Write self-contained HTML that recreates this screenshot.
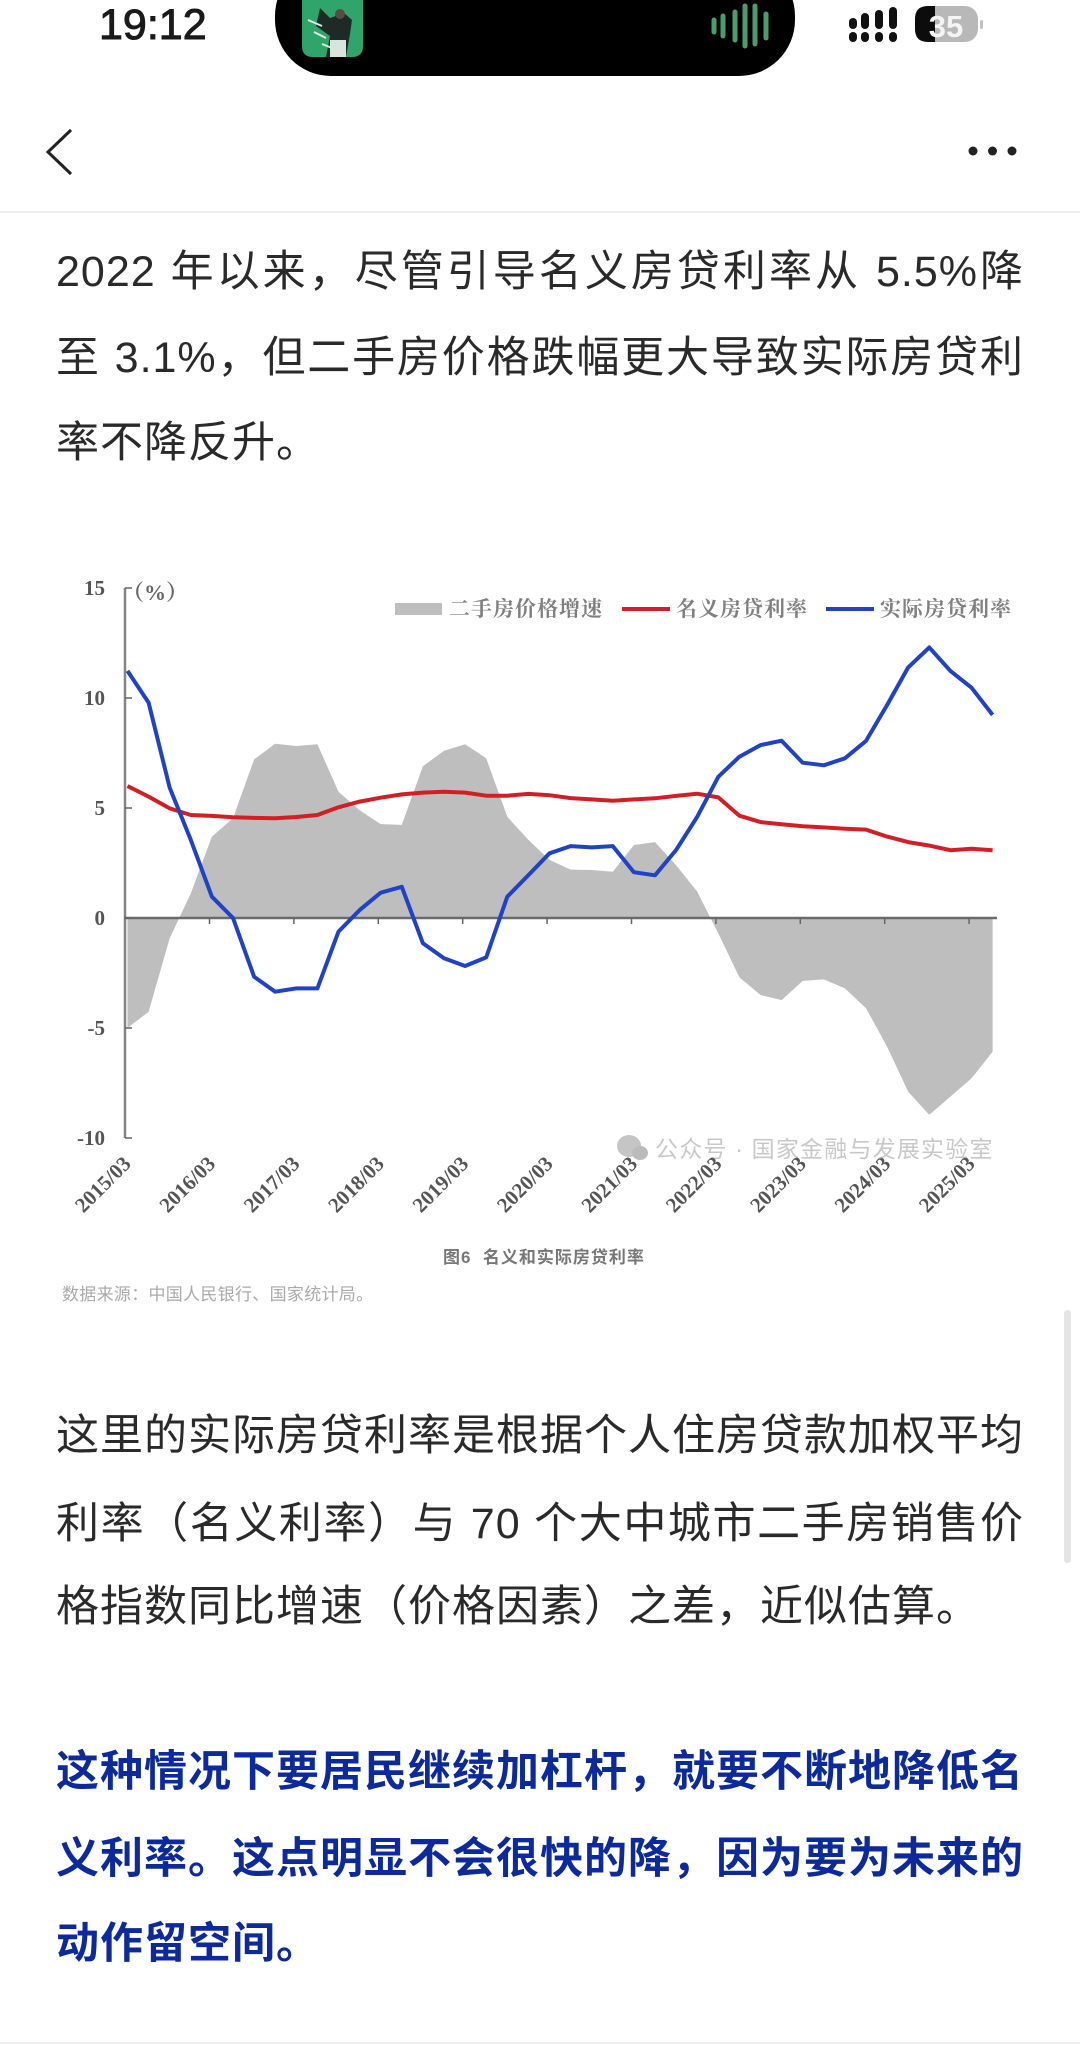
<!DOCTYPE html>
<html lang="zh-CN">
<head>
<meta charset="utf-8">
<title>名义和实际房贷利率</title>
<style>
html,body{margin:0;padding:0;background:#fff;}
body{width:1080px;height:2054px;position:relative;overflow:hidden;font-family:"Liberation Sans","Noto Sans CJK SC",sans-serif;}
.abs{position:absolute;}
.line{position:absolute;left:56px;width:968px;height:60px;line-height:60px;font-size:43px;letter-spacing:1px;color:#2a2a2a;white-space:normal;}
.just{text-align:justify;text-align-last:justify;}
.blue{color:#0c2a9c;font-weight:700;}
#chart{position:absolute;left:0;top:0;}
</style>
</head>
<body>

<div class="abs" style="left:99px;top:0;height:50px;line-height:50px;font-size:43px;font-weight:400;-webkit-text-stroke:1px #1a1a1a;color:#1a1a1a;">19:12</div>

<div class="abs" style="left:275px;top:-40px;width:520px;height:116px;background:#000;border-radius:56px;"></div>
<svg class="abs" style="left:0;top:0;" width="1080" height="80">
  <g>
    <path d="M302 0H363V46Q363 57 352 57H313Q302 57 302 46Z" fill="#2fa56b"/>
    <path d="M320 8L330 18L344 13L352 20L350 34L346 57H326L330 36L316 26Z" fill="#1f2a26"/>
    <rect x="330" y="40" width="16" height="17" fill="#d8e4dc"/>
    <circle cx="340" cy="14" r="5" fill="#5a4a40"/>
    <path d="M308 20L322 26M314 32L326 38M322 44L332 48" stroke="#dfe8e2" stroke-width="2"/>
  </g>
  <g stroke="#4d9c6c" stroke-width="5" stroke-linecap="round">
    <line x1="714" y1="20" x2="714" y2="32"/>
    <line x1="723" y1="16" x2="723" y2="36"/>
    <line x1="735" y1="12" x2="735" y2="40"/>
    <line x1="745" y1="6" x2="745" y2="46"/>
    <line x1="755" y1="6" x2="755" y2="44"/>
    <line x1="766" y1="14" x2="766" y2="38"/>
  </g>
  <g stroke="#111" stroke-width="8" stroke-linecap="round">
    <line x1="853" y1="22" x2="853" y2="25"/><line x1="865" y1="17" x2="865" y2="25"/>
    <line x1="879" y1="14" x2="879" y2="25"/><line x1="893" y1="11" x2="893" y2="25"/>
    <line x1="853" y1="36" x2="853" y2="38"/><line x1="865" y1="36" x2="865" y2="38"/>
    <line x1="879" y1="36" x2="879" y2="38"/><line x1="893" y1="36" x2="893" y2="38"/>
  </g>
  <g>
    <rect x="915" y="6" width="63" height="36" rx="13" fill="#b8b8b8"/>
    <path d="M928 6H935V42H928Q915 42 915 29V19Q915 6 928 6Z" fill="#0c0c0c"/>
    <rect x="980" y="20" width="3" height="9" rx="1.5" fill="#c0c0c0"/>
    <text x="946" y="37" text-anchor="middle" font-family="Liberation Sans" font-weight="700" font-size="31" fill="#f4f4f4">35</text>
  </g>
</svg>

<svg class="abs" style="left:0;top:110px;" width="1080" height="90">
  <polyline points="71,20 48,42 71,64" fill="none" stroke="#222" stroke-width="3"/>
  <g fill="#222">
    <circle cx="973" cy="41" r="4.5"/><circle cx="992.5" cy="41" r="4.5"/><circle cx="1012" cy="41" r="4.5"/>
  </g>
</svg>
<div class="abs" style="left:0;top:211px;width:1080px;height:2px;background:#efefef;"></div>

<div class="line just" style="top:242px;">2022 年以来，尽管引导名义房贷利率从 5.5%降</div>
<div class="line just" style="top:328px;">至 3.1%，但二手房价格跌幅更大导致实际房贷利</div>
<div class="line" style="top:413px;">率不降反升。</div>

<svg id="chart" width="1080" height="1340">
  <g>
    <rect x="395" y="603" width="47" height="12" fill="#bebebe"/>
    <text x="449" y="616" font-family="'Liberation Serif','Noto Serif CJK SC',serif" font-size="21" font-weight="700" letter-spacing="1" fill="#808080">二手房价格增速</text>
    <line x1="622" y1="609" x2="670" y2="609" stroke="#d21f26" stroke-width="4"/>
    <text x="676" y="616" font-family="'Liberation Serif','Noto Serif CJK SC',serif" font-size="21" font-weight="700" letter-spacing="1" fill="#808080">名义房贷利率</text>
    <line x1="826" y1="609" x2="874" y2="609" stroke="#2043c6" stroke-width="4"/>
    <text x="880" y="616" font-family="'Liberation Serif','Noto Serif CJK SC',serif" font-size="21" font-weight="700" letter-spacing="1" fill="#808080">实际房贷利率</text>
  </g>
  <text x="122" y="600" font-family="'Liberation Serif','Noto Serif CJK SC',serif" font-size="22" font-weight="700" fill="#666">（%）</text>
</svg>

<div class="abs" style="left:443px;top:1246px;height:24px;line-height:24px;font-size:17px;font-weight:700;color:#777;letter-spacing:1px;white-space:pre;">图6  名义和实际房贷利率</div>
<div class="abs" style="left:62px;top:1283px;height:24px;line-height:24px;font-size:17px;color:#aaa;letter-spacing:.3px;white-space:pre;">数据来源：中国人民银行、国家统计局。</div>

<svg class="abs" style="left:610px;top:1130px;opacity:.85;" width="45" height="36">
  <ellipse cx="19" cy="16" rx="12" ry="11" fill="#bcbcbc"/>
  <ellipse cx="30" cy="23" rx="8" ry="7" fill="#b0b0b0"/>
</svg>
<div class="abs" style="left:655px;top:1135px;height:28px;line-height:28px;font-size:23px;letter-spacing:1.2px;color:rgba(170,170,170,.65);white-space:pre;">公众号 · 国家金融与发展实验室</div>

<div class="line just" style="top:1406px;">这里的实际房贷利率是根据个人住房贷款加权平均</div>
<div class="line just" style="top:1494px;">利率（名义利率）与 70 个大中城市二手房销售价</div>
<div class="line" style="top:1577px;">格指数同比增速（价格因素）之差，近似估算。</div>

<div class="line just blue" style="top:1742px;">这种情况下要居民继续加杠杆，就要不断地降低名</div>
<div class="line just blue" style="top:1829px;">义利率。这点明显不会很快的降，因为要为未来的</div>
<div class="line blue" style="top:1914px;">动作留空间。</div>

<div class="abs" style="left:1064px;top:1310px;width:7px;height:253px;background:#e4e4e4;border-radius:4px;"></div>
<div class="abs" style="left:0;top:2042px;width:1080px;height:2px;background:#efefef;"></div>

<script>
const categories = ['2015/03','2015/06','2015/09','2015/12','2016/03','2016/06','2016/09','2016/12','2017/03','2017/06','2017/09','2017/12','2018/03','2018/06','2018/09','2018/12','2019/03','2019/06','2019/09','2019/12','2020/03','2020/06','2020/09','2020/12','2021/03','2021/06','2021/09','2021/12','2022/03','2022/06','2022/09','2022/12','2023/03','2023/06','2023/09','2023/12','2024/03','2024/06','2024/09','2024/12','2025/03','2025/06'];
const priceGrowth = [-5.0,-4.26,-0.92,1.12,3.7,4.53,7.21,7.92,7.82,7.9,5.74,4.9,4.27,4.23,6.9,7.6,7.9,7.26,4.6,3.55,2.64,2.2,2.18,2.1,3.32,3.45,2.4,1.2,-0.7,-2.7,-3.5,-3.73,-2.86,-2.79,-3.2,-4.1,-5.85,-7.9,-8.95,-8.12,-7.29,-6.08];
const nominalRate = [6.0,5.52,4.98,4.68,4.64,4.58,4.55,4.53,4.59,4.68,5.03,5.29,5.47,5.62,5.7,5.74,5.7,5.56,5.56,5.64,5.58,5.45,5.39,5.33,5.39,5.44,5.55,5.65,5.48,4.65,4.36,4.26,4.17,4.12,4.06,4.02,3.7,3.45,3.29,3.08,3.15,3.08];
const realRate = [11.23,9.79,5.92,3.55,0.97,0.0,-2.67,-3.35,-3.2,-3.2,-0.62,0.36,1.15,1.42,-1.15,-1.83,-2.18,-1.79,0.97,1.95,2.94,3.27,3.21,3.27,2.08,1.94,3.09,4.6,6.42,7.33,7.86,8.06,7.06,6.94,7.26,8.05,9.68,11.39,12.3,11.23,10.47,9.23];
const yTickValues = [15,10,5,0,-5,-10];
const xTickLabels = ['2015/03','2016/03','2017/03','2018/03','2019/03','2020/03','2021/03','2022/03','2023/03','2024/03','2025/03'];

const NS = 'http://www.w3.org/2000/svg';
const svg = document.getElementById('chart');
function xScale(i){ return 127.5 + 21.1 * i; }
function yScale(v){ return 918 - 22 * v; }
function tickX(label){ return xScale(categories.indexOf(label)) - 2.4; }
function linePath(values){
  return values.map(function(v,i){ return (i ? 'L' : 'M') + xScale(i).toFixed(1) + ' ' + yScale(v).toFixed(1); }).join(' ');
}
function make(tag){ return document.createElementNS(NS, tag); }

const area = make('path');


area.setAttribute('d', linePath(priceGrowth) + ' L' + xScale(priceGrowth.length - 1).toFixed(1) + ' ' + yScale(0) + ' L' + xScale(0).toFixed(1) + ' ' + yScale(0) + ' Z');
area.setAttribute('fill', '#bebebe');
svg.appendChild(area);

const yAxis = make('line');


yAxis.setAttribute('x1', 125);
yAxis.setAttribute('x2', 125);
yAxis.setAttribute('y1', yScale(15));
yAxis.setAttribute('y2', yScale(-10));
yAxis.setAttribute('stroke', '#858585');
yAxis.setAttribute('stroke-width', '2.5');
svg.appendChild(yAxis);

const xAxis = make('line');


xAxis.setAttribute('x1', 124);
xAxis.setAttribute('x2', 997);
xAxis.setAttribute('y1', yScale(0));
xAxis.setAttribute('y2', yScale(0));
xAxis.setAttribute('stroke', '#6a6a6a');
xAxis.setAttribute('stroke-width', '2.5');
svg.appendChild(xAxis);

yTickValues.forEach(function(v){
  const t = make('line');
  
  
  t.setAttribute('x1', 125);
  t.setAttribute('x2', 132);
  t.setAttribute('y1', yScale(v));
  t.setAttribute('y2', yScale(v));
  t.setAttribute('stroke', '#666');
  t.setAttribute('stroke-width', '1.5');
  svg.appendChild(t);
  const l = make('text');
  
  
  l.setAttribute('x', 105);
  l.setAttribute('y', yScale(v) + 7);
  l.setAttribute('text-anchor', 'end');
  l.setAttribute('font-family', 'Liberation Serif, serif');
  l.setAttribute('font-size', '21');
  l.setAttribute('font-weight', '700');
  l.setAttribute('fill', '#555');
  l.textContent = v;
  svg.appendChild(l);
});

xTickLabels.forEach(function(label, k){
  const tx = tickX(label);
  if (k > 0) {
    const t = make('line');
    
    
    t.setAttribute('x1', tx);
    t.setAttribute('x2', tx);
    t.setAttribute('y1', yScale(0));
    t.setAttribute('y2', yScale(0) + 6);
    t.setAttribute('stroke', '#666');
    t.setAttribute('stroke-width', '1.5');
    svg.appendChild(t);
  }
  const l = make('text');
  
  
  l.setAttribute('transform', 'translate(' + (tx + 7).toFixed(1) + ',1165) rotate(-45)');
  l.setAttribute('text-anchor', 'end');
  l.setAttribute('font-family', 'Liberation Serif, serif');
  l.setAttribute('font-size', '21');
  l.setAttribute('font-weight', '700');
  l.setAttribute('fill', '#555');
  l.textContent = label;
  svg.appendChild(l);
});

const redLine = make('path');


redLine.setAttribute('d', linePath(nominalRate));
redLine.setAttribute('fill', 'none');
redLine.setAttribute('stroke', '#d21f26');
redLine.setAttribute('stroke-width', '4');
redLine.setAttribute('stroke-linejoin', 'round');
svg.appendChild(redLine);

const blueLine = make('path');


blueLine.setAttribute('d', linePath(realRate));
blueLine.setAttribute('fill', 'none');
blueLine.setAttribute('stroke', '#2043c6');
blueLine.setAttribute('stroke-width', '4');
blueLine.setAttribute('stroke-linejoin', 'round');
svg.appendChild(blueLine);
</script>
</body>
</html>
